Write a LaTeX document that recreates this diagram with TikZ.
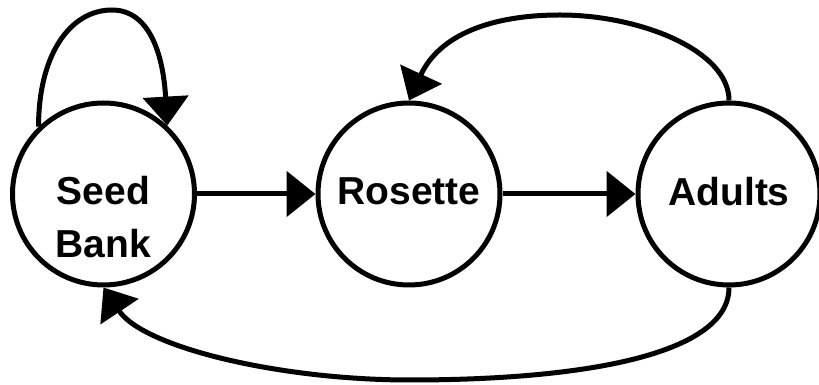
\documentclass[tikz,border=0pt]{standalone}
\usepackage{fontspec}
\setmainfont{Liberation Sans}
\usetikzlibrary{arrows.meta}

\begin{document}
\begin{tikzpicture}
        [x=1pt, y=1pt,
        font=\fontsize{39}{53}\selectfont\bfseries,
        stage/.style={circle, draw=black, line width=5pt, minimum size=182pt, inner sep=0pt, text depth=6pt},
        flow/.style={-{Triangle[length=29pt,width=45pt]}, line width=5pt},
        ]
        \useasboundingbox (0,0) rectangle (819,385);

        % life stages
        \node[stage] (seed) at (103.5,191) {};
        \node[align=center] (seedtext) at (103.5,167.5) {Seed\\Bank};
        \node[stage] (rosette) at (409,191) {Rosette};
        \node[stage] (adults) at (729,191) {Adults};

        % waypoints of the bent arrows
        \coordinate (looptop) at (112,375);
        \coordinate (toparc) at (560,370);
        \coordinate (botarc) at (410,5);

        \draw[flow] (seed) -- (rosette);
        \draw[flow] (rosette) -- (adults);
        \draw[flow] (seed.134) .. controls +(0,72) and +(-42,0) .. (looptop)
          .. controls +(38,0) and +(-4,70) .. (seed.47);
        \draw[flow] (adults.north) .. controls +(0,50) and +(80,0) .. (toparc)
          .. controls +(-70,0) and +(30,65) .. (rosette.north);
        \draw[flow] (adults.south) .. controls +(0,-68) and +(170,0) .. (botarc)
          .. controls +(-130,0) and +(40,-60) .. (seed.south);
\end{tikzpicture}
\end{document}
